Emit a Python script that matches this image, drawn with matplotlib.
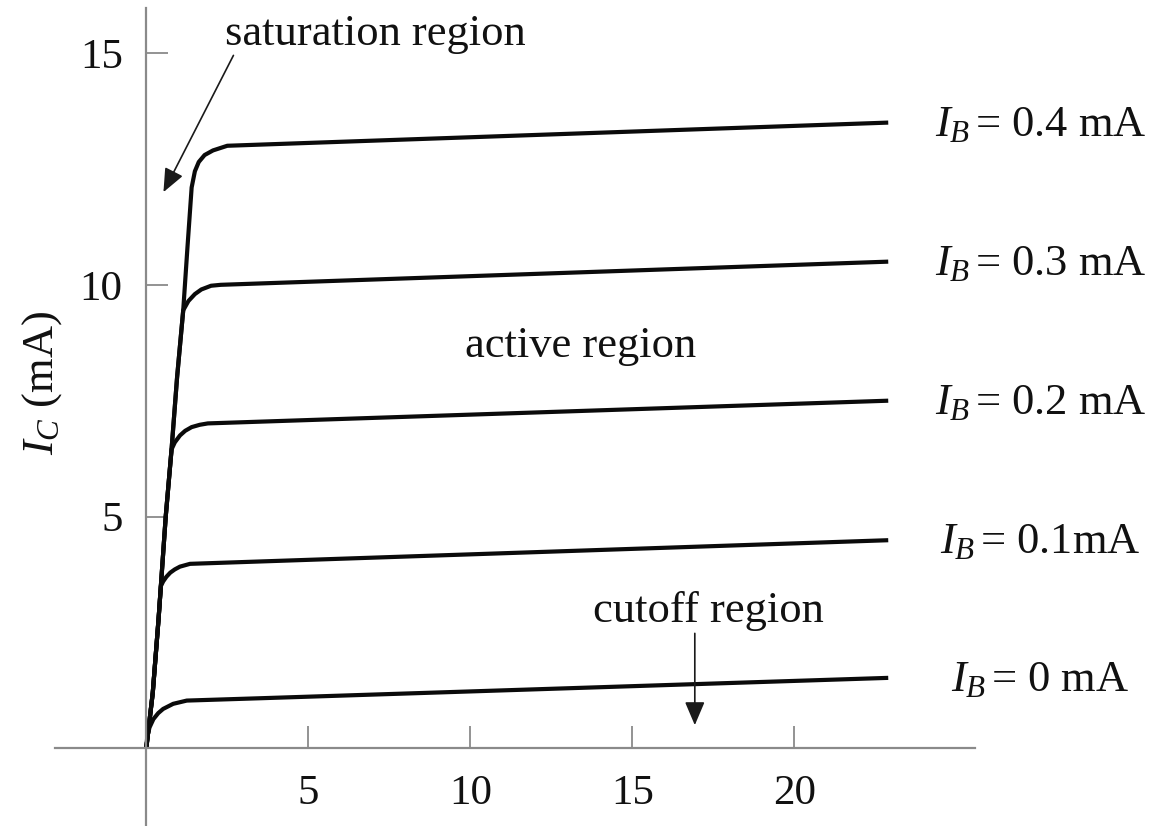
import matplotlib
matplotlib.use("Agg")
import matplotlib.pyplot as plt

plt.rcParams["font.family"] = ["Liberation Serif", "DejaVu Serif"]
plt.rcParams["mathtext.fontset"] = "custom"
plt.rcParams["mathtext.rm"] = "Liberation Serif"
plt.rcParams["mathtext.it"] = "Liberation Serif:italic"

# Collector characteristic curves: V_CE (V) vs I_C (mA) for each base current
curve_labels = ["$I_B\\,$= 0 mA", "$I_B\\,$= 0.1mA", "$I_B\\,$= 0.2 mA",
                "$I_B\\,$= 0.3 mA", "$I_B\\,$= 0.4 mA"]

vce_ib0 = [0.0, 0.03, 0.10, 0.22, 0.37, 0.52, 0.83, 1.25, 3.5, 22.9]
ic_ib0 = [0.0, 0.25, 0.45, 0.63, 0.76, 0.85, 0.96, 1.03, 1.08, 1.52]

vce_ib1 = [0.0, 0.20, 0.38, 0.45, 0.52, 0.62, 0.74, 0.88, 1.04, 1.35, 22.9]
ic_ib1 = [0.0, 1.20, 2.80, 3.50, 3.60, 3.70, 3.79, 3.86, 3.92, 3.98, 4.49]

vce_ib2 = [0.0, 0.20, 0.38, 0.45, 0.60, 0.78, 0.88, 1.04, 1.20, 1.40, 1.65, 1.90, 22.9]
ic_ib2 = [0.0, 1.20, 2.80, 3.50, 5.00, 6.45, 6.60, 6.75, 6.85, 6.93, 6.98, 7.01, 7.50]

vce_ib3 = [0.0, 0.20, 0.38, 0.45, 0.60, 0.78, 0.95, 1.14, 1.30, 1.50, 1.70, 2.00, 2.30, 22.9]
ic_ib3 = [0.0, 1.20, 2.80, 3.50, 5.00, 6.45, 8.00, 9.45, 9.65, 9.80, 9.90, 9.98, 10.0, 10.5]

vce_ib4 = [0.0, 0.20, 0.38, 0.45, 0.60, 0.78, 0.95, 1.14, 1.27, 1.40, 1.50, 1.62,
           1.80, 2.06, 2.50, 22.9]
ic_ib4 = [0.0, 1.20, 2.80, 3.50, 5.00, 6.45, 8.00, 9.45, 10.8, 12.1, 12.45, 12.65,
          12.80, 12.90, 13.0, 13.5]

x_ticks = [5, 10, 15, 20]
y_ticks = [5, 10, 15]

curves = [(vce_ib0, ic_ib0), (vce_ib1, ic_ib1), (vce_ib2, ic_ib2),
          (vce_ib3, ic_ib3), (vce_ib4, ic_ib4)]

fig = plt.figure(figsize=(11.74, 8.26), dpi=100)
ax = fig.add_axes([0, 0, 1, 1])
ax.set_xlim(-4.515, 31.72)
ax.set_ylim(-1.676, 16.145)

axis_grey = "#8a8a8a"
for side in ("top", "right"):
    ax.spines[side].set_visible(False)
ax.spines["left"].set_position(("data", 0))
ax.spines["bottom"].set_position(("data", 0))
ax.spines["left"].set_bounds(-1.7, 15.97)
ax.spines["bottom"].set_bounds(-2.82, 25.58)
for side in ("left", "bottom"):
    ax.spines[side].set_color(axis_grey)
    ax.spines[side].set_linewidth(1.6)

ax.set_xticks(x_ticks)
ax.set_yticks(y_ticks)
ax.set_xticklabels([str(t) for t in x_ticks])
ax.set_yticklabels([str(t) for t in y_ticks])
ax.tick_params(direction="in", length=16, width=1.3, color=axis_grey,
               labelsize=31, labelcolor="#111111")
ax.tick_params(axis="x", pad=19)
ax.tick_params(axis="y", pad=17)

for (v, i), lab in zip(curves, curve_labels):
    ax.plot(v, i, color="#0a0a0a", lw=3.0, solid_capstyle="butt",
            solid_joinstyle="round")
    ax.text(27.6, i[-1] - 0.28, lab, ha="center", va="baseline",
            fontsize=32, color="#111111")

ax.text(-3.23, 7.88, "$I_C$ (mA)", rotation=90, ha="center", va="center",
        fontsize=32, color="#111111")

arrow_style = dict(arrowstyle="-|>,head_length=0.4,head_width=0.17",
                   color="#1a1a1a", lw=1.2, mutation_scale=36,
                   shrinkA=0, shrinkB=0)

ax.text(7.06, 15.17, "saturation region", ha="center", va="baseline",
        fontsize=32, color="#111111")
ax.annotate("", xy=(0.53, 12.0), xytext=(2.69, 14.95), arrowprops=arrow_style)

ax.text(13.39, 8.45, "active region", ha="center", va="baseline",
        fontsize=32, color="#111111")

ax.text(17.34, 2.73, "cutoff region", ha="center", va="baseline",
        fontsize=32, color="#111111")
ax.annotate("", xy=(16.93, 0.50), xytext=(16.93, 2.48), arrowprops=arrow_style)

fig.savefig("out.png", dpi=100)
